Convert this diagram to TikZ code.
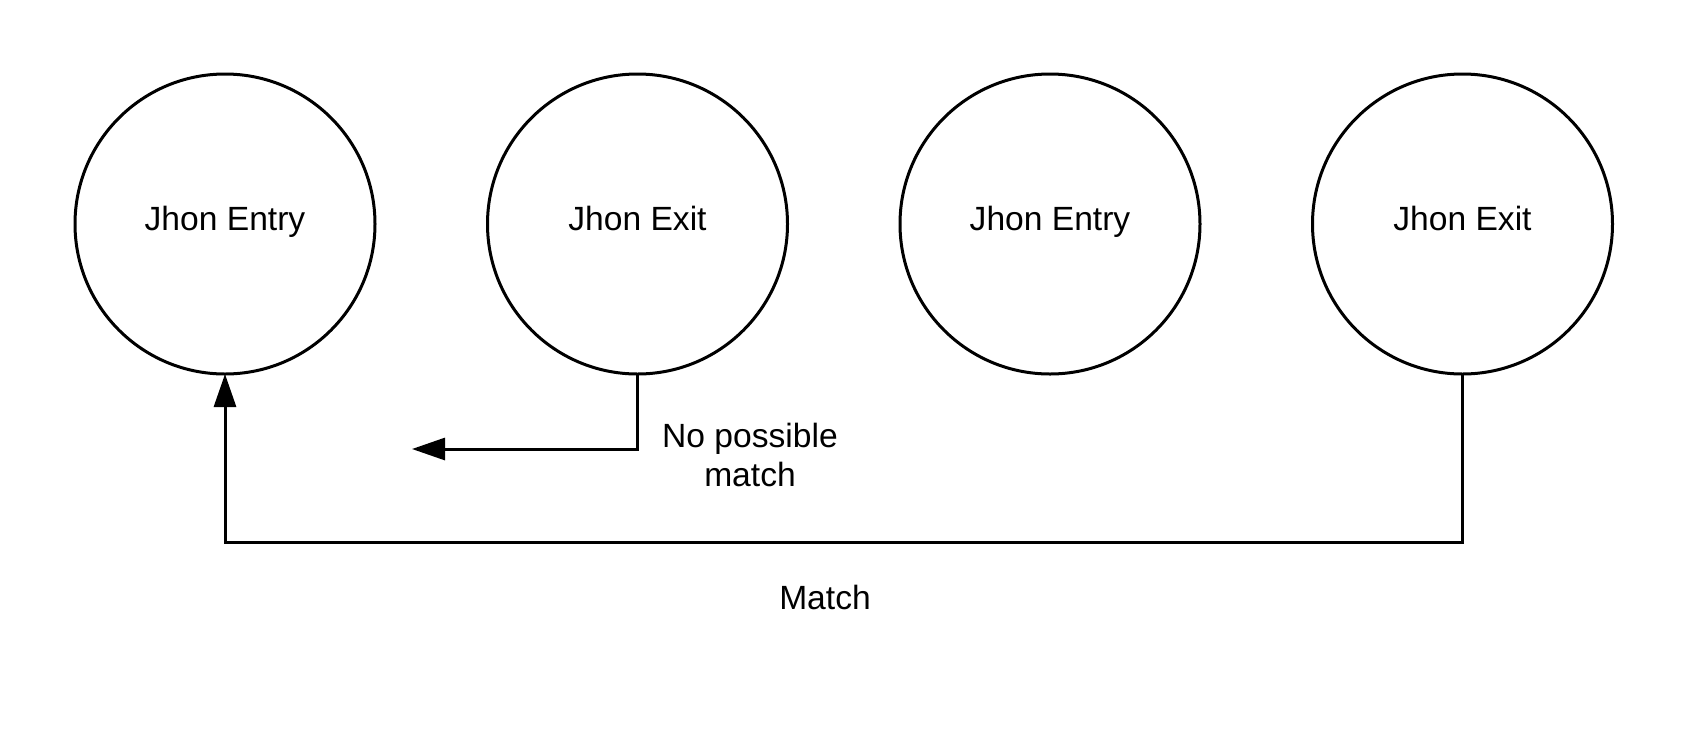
\documentclass[tikz,border=0pt]{standalone}
\usepackage{fontspec}
\setmainfont{Liberation Sans}
\usetikzlibrary{arrows.meta,positioning,automata}
\definecolor{ink}{HTML}{000000}

\begin{document}
\begin{tikzpicture}[x=0.5pt,y=-0.5pt,>={Triangle[length=16.5pt,width=11pt]},
 node distance=56.25pt,
 every state/.style={minimum size=150pt,inner sep=0pt,outer sep=0pt,draw=ink,line width=1.5pt,
   text height=0.85em,text depth=0.22em},
 link/.style={->,draw=ink,line width=1.5pt},
 every node/.style={font=\fontsize{16.8}{19.5}\selectfont}]
\useasboundingbox (0,0) rectangle (1688,735);
\node[state] (A) at (225,224) {Jhon Entry};
\node[state,right=of A] (B) {Jhon Exit};
\node[state,right=of B] (C) {Jhon Entry};
\node[state,right=of C] (D) {Jhon Exit};
\coordinate (nomatch) at (412,449);
\draw[link] (B.south) |- (nomatch);
\node[align=center] (nm) at (750,455) {No possible\\match};
\draw[link] (D.south) -- ++(0,168) -| (A.south);
\node (m) at (825,597) {Match};
\end{tikzpicture}
\end{document}
